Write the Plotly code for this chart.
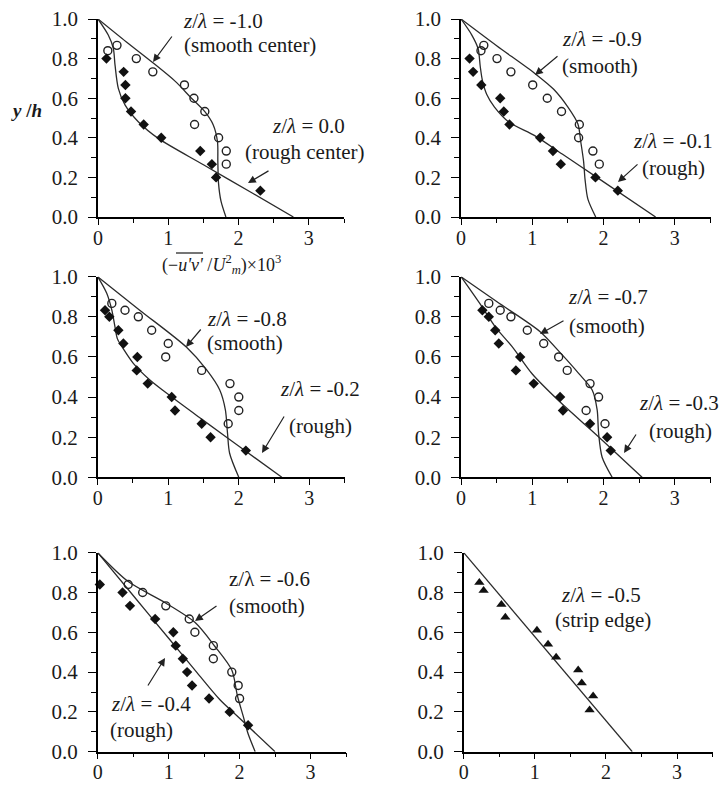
import plotly.graph_objects as go

W, H = 725, 788

# ---------------- data ----------------
# Panel 1: z/lambda = -1.0 (smooth center) and 0.0 (rough center)
p1_smooth_x = [0.14, 0.27, 0.545, 0.78, 1.23, 1.365, 1.52, 1.374, 1.716, 1.825, 1.825]
p1_smooth_y = [0.84, 0.867, 0.8, 0.733, 0.667, 0.6, 0.533, 0.467, 0.4, 0.333, 0.267]
p1_rough_x = [0.12, 0.365, 0.39, 0.39, 0.47, 0.65, 0.90, 1.455, 1.62, 1.68, 2.31]
p1_rough_y = [0.8, 0.733, 0.667, 0.6, 0.533, 0.467, 0.4, 0.333, 0.267, 0.2, 0.133]
p1_smooth_fit_x = [0, 0.40, 0.763, 1.10, 1.33, 1.52, 1.64, 1.70, 1.705, 1.715, 1.75, 1.82]
p1_smooth_fit_y = [1.0, 0.885, 0.784, 0.685, 0.60, 0.532, 0.465, 0.38, 0.28, 0.17, 0.08, 0.0]
p1_rough_fit_x = [0, 0.146, 0.218, 0.242, 0.289, 0.384, 0.573, 0.857, 1.5, 2.2, 2.78]
p1_rough_fit_y = [1.0, 0.919, 0.852, 0.768, 0.65, 0.566, 0.481, 0.397, 0.264, 0.12, 0.0]

# Panel 2: z/lambda = -0.9 (smooth) and -0.1 (rough)
p2_smooth_x = [0.28, 0.32, 0.505, 0.70, 1.006, 1.21, 1.41, 1.66, 1.65, 1.85, 1.94]
p2_smooth_y = [0.84, 0.867, 0.8, 0.733, 0.667, 0.6, 0.533, 0.467, 0.4, 0.333, 0.267]
p2_rough_x = [-0.03, 0.12, 0.17, 0.285, 0.55, 0.60, 0.68, 1.11, 1.29, 1.40, 1.886, 2.20]
p2_rough_y = [0.84, 0.8, 0.733, 0.667, 0.6, 0.533, 0.467, 0.4, 0.333, 0.267, 0.2, 0.133]
p2_smooth_fit_x = [0, 0.5, 1.04, 1.30, 1.50, 1.64, 1.68, 1.72, 1.74, 1.78, 1.89]
p2_smooth_fit_y = [1.0, 0.865, 0.724, 0.645, 0.555, 0.47, 0.38, 0.28, 0.19, 0.09, 0.0]
p2_rough_fit_x = [0, 0.15, 0.24, 0.27, 0.30, 0.36, 0.47, 0.67, 1.04, 1.42, 1.886, 2.73]
p2_rough_fit_y = [1.0, 0.92, 0.85, 0.76, 0.69, 0.62, 0.555, 0.48, 0.41, 0.318, 0.205, 0.0]

# Panel 3: z/lambda = -0.8 (smooth) and -0.2 (rough)
p3_smooth_x = [0.20, 0.387, 0.576, 0.765, 1.0, 0.964, 1.474, 1.875, 2.0, 2.0, 1.85]
p3_smooth_y = [0.867, 0.833, 0.8, 0.733, 0.667, 0.6, 0.533, 0.467, 0.4, 0.333, 0.267]
p3_rough_x = [0.104, 0.165, 0.293, 0.364, 0.562, 0.553, 0.709, 1.049, 1.096, 1.474, 1.60, 2.10]
p3_rough_y = [0.833, 0.8, 0.733, 0.667, 0.6, 0.533, 0.467, 0.4, 0.333, 0.267, 0.2, 0.133]
p3_smooth_fit_x = [0, 0.6, 1.26, 1.545, 1.73, 1.81, 1.84, 1.87, 2.0]
p3_smooth_fit_y = [1.0, 0.832, 0.648, 0.535, 0.435, 0.336, 0.22, 0.12, 0.0]
p3_rough_fit_x = [0, 0.128, 0.2, 0.24, 0.28, 0.364, 0.505, 0.74, 1.05, 1.474, 2.10, 2.61]
p3_rough_fit_y = [1.0, 0.917, 0.834, 0.76, 0.69, 0.64, 0.568, 0.485, 0.40, 0.29, 0.13, 0.0]

# Panel 4: z/lambda = -0.7 (smooth) and -0.3 (rough)
p4_smooth_x = [0.39, 0.55, 0.70, 0.93, 1.16, 1.37, 1.49, 1.81, 1.93, 1.755, 2.02]
p4_smooth_y = [0.867, 0.833, 0.8, 0.733, 0.667, 0.6, 0.533, 0.467, 0.4, 0.333, 0.267]
p4_rough_x = [0.30, 0.39, 0.48, 0.53, 0.83, 0.77, 1.02, 1.39, 1.43, 1.81, 2.05, 2.10]
p4_rough_y = [0.833, 0.8, 0.733, 0.667, 0.6, 0.533, 0.467, 0.4, 0.333, 0.267, 0.2, 0.133]
p4_smooth_fit_x = [0, 0.5, 1.11, 1.42, 1.65, 1.84, 1.91, 1.93, 1.98, 2.12]
p4_smooth_fit_y = [1.0, 0.876, 0.726, 0.61, 0.518, 0.435, 0.336, 0.22, 0.10, 0.0]
p4_rough_fit_x = [0, 0.295, 0.48, 0.72, 1.0, 1.42, 1.886, 2.54]
p4_rough_fit_y = [1.0, 0.85, 0.75, 0.65, 0.515, 0.365, 0.216, 0.0]

# Panel 5: z/lambda = -0.6 (smooth) and -0.4 (rough)
p5_smooth_x = [0.43, 0.634, 0.96, 1.29, 1.37, 1.63, 1.63, 1.89, 1.98, 2.0]
p5_smooth_y = [0.84, 0.8, 0.733, 0.667, 0.6, 0.533, 0.467, 0.4, 0.333, 0.267]
p5_rough_x = [0.03, 0.35, 0.455, 0.81, 1.066, 1.10, 1.20, 1.26, 1.33, 1.57, 1.86, 2.12]
p5_rough_y = [0.84, 0.8, 0.733, 0.667, 0.6, 0.533, 0.467, 0.4, 0.333, 0.267, 0.2, 0.133]
p5_smooth_fit_x = [0, 0.43, 0.945, 1.37, 1.65, 1.89, 1.97, 2.05, 2.12, 2.22]
p5_smooth_fit_y = [1.0, 0.855, 0.75, 0.65, 0.53, 0.41, 0.28, 0.18, 0.09, 0.0]
p5_rough_fit_x = [0, 0.5, 1.0, 1.4, 1.72, 2.0, 2.5]
p5_rough_fit_y = [1.0, 0.785, 0.57, 0.397, 0.262, 0.168, 0.0]

# Panel 6: z/lambda = -0.5 (strip edge)
p6_edge_x = [0.22, 0.28, 0.53, 0.586, 1.03, 1.186, 1.30, 1.61, 1.66, 1.82, 1.77]
p6_edge_y = [0.85, 0.81, 0.74, 0.675, 0.61, 0.54, 0.475, 0.41, 0.345, 0.28, 0.21]
p6_edge_fit_x = [0, 2.37]
p6_edge_fit_y = [1.0, 0.0]

x_tick_vals = [0, 1, 2, 3]
x_tick_text = ["0", "1", "2", "3"]
y_tick_vals = [0.0, 0.2, 0.4, 0.6, 0.8, 1.0]
y_tick_text = ["0.0", "0.2", "0.4", "0.6", "0.8", "1.0"]

# ---------------- layout helpers ----------------
FONT = "'Liberation Serif', 'DejaVu Serif', serif"
FS = 21
INK = "#1a1a1a"
LINE = "#2b2b2b"


def px(xp, yp):
    return xp / W, 1 - yp / H


# panel plot-area rectangles in pixels: (left, right, top, bottom)
panels = [
    (98, 344, 19, 217),
    (461, 710.5, 19, 217),
    (97.7, 344.6, 276.7, 477.3),
    (461, 710.5, 276.7, 477.3),
    (97.7, 346, 552.7, 751.7),
    (463.7, 712.6, 552.7, 751.7),
]

fig = go.Figure()
layout = dict(
    template="none",
    width=W, height=H, autosize=False, margin=dict(l=0, r=0, t=0, b=0, pad=0, autoexpand=False),
    paper_bgcolor="white", plot_bgcolor="white", showlegend=False,
    font=dict(family=FONT, size=FS, color=INK),
)
for i, (l, r, t, b) in enumerate(panels):
    k = "" if i == 0 else str(i + 1)
    layout["xaxis" + k] = dict(
        domain=[l / W, r / W], range=[0, 3.5], anchor="y" + k, automargin=False,
        showline=True, linecolor="black", linewidth=1.5, showgrid=False, zeroline=False,
        tickmode="array", tickvals=x_tick_vals, ticktext=x_tick_text,
        ticks="outside", ticklen=6, tickwidth=1.3, tickcolor="black",
        minor=dict(dtick=0.5, tick0=0, ticks="outside", ticklen=4, tickwidth=1.2,
                   tickcolor="black", showgrid=False),
        tickfont=dict(family=FONT, size=FS - 1, color=INK), ticklabelstandoff=-4,
    )
    layout["yaxis" + k] = dict(
        domain=[1 - b / H, 1 - t / H], range=[0, 1.0], anchor="x" + k, automargin=False,
        showline=True, linecolor="black", linewidth=1.5, showgrid=False, zeroline=False,
        tickmode="array", tickvals=y_tick_vals, ticktext=y_tick_text,
        ticks="outside", ticklen=8, tickwidth=1.3, tickcolor="black",
        minor=dict(dtick=0.1, tick0=0, ticks="outside", ticklen=5, tickwidth=1.2,
                   tickcolor="black", showgrid=False),
        tickfont=dict(family=FONT, size=FS, color=INK), ticklabelstandoff=6,
    )
fig.update_layout(**layout)


def add_line(i, xs, ys):
    k = "" if i == 0 else str(i + 1)
    fig.add_trace(go.Scatter(x=xs, y=ys, mode="lines", xaxis="x" + k, yaxis="y" + k,
                             line=dict(color=LINE, width=1.3, shape="spline", smoothing=0.8),
                             cliponaxis=False, hoverinfo="skip"))


def add_pts(i, xs, ys, kind):
    k = "" if i == 0 else str(i + 1)
    if kind == "circle":
        mk = dict(symbol="circle-open", size=8, color="#222", line=dict(width=1.4, color="#222"))
    elif kind == "diamond":
        mk = dict(symbol="diamond", size=8, color="#111", line=dict(width=0))
    else:
        mk = dict(symbol="triangle-up", size=9, color="#111", line=dict(width=0))
    fig.add_trace(go.Scatter(x=xs, y=ys, mode="markers", xaxis="x" + k, yaxis="y" + k,
                             marker=mk, cliponaxis=False))


panel_data = [
    (p1_smooth_fit_x, p1_smooth_fit_y, p1_rough_fit_x, p1_rough_fit_y,
     p1_smooth_x, p1_smooth_y, p1_rough_x, p1_rough_y),
    (p2_smooth_fit_x, p2_smooth_fit_y, p2_rough_fit_x, p2_rough_fit_y,
     p2_smooth_x, p2_smooth_y, p2_rough_x, p2_rough_y),
    (p3_smooth_fit_x, p3_smooth_fit_y, p3_rough_fit_x, p3_rough_fit_y,
     p3_smooth_x, p3_smooth_y, p3_rough_x, p3_rough_y),
    (p4_smooth_fit_x, p4_smooth_fit_y, p4_rough_fit_x, p4_rough_fit_y,
     p4_smooth_x, p4_smooth_y, p4_rough_x, p4_rough_y),
    (p5_smooth_fit_x, p5_smooth_fit_y, p5_rough_fit_x, p5_rough_fit_y,
     p5_smooth_x, p5_smooth_y, p5_rough_x, p5_rough_y),
]
for i, (sfx, sfy, rfx, rfy, sx, sy, rx, ry) in enumerate(panel_data):
    add_line(i, sfx, sfy)
    add_line(i, rfx, rfy)
    add_pts(i, sx, sy, "circle")
    add_pts(i, rx, ry, "diamond")

add_line(5, p6_edge_fit_x, p6_edge_fit_y)
add_pts(5, p6_edge_x, p6_edge_y, "triangle")

# ---------------- annotations ----------------
ann = []


def text(xp, yp, s, size=FS):
    x, y = px(xp, yp)
    ann.append(dict(x=x, y=y, xref="paper", yref="paper", text=s, showarrow=False,
                    xanchor="center", yanchor="middle",
                    font=dict(family=FONT, size=size, color=INK)))


def arrow(x0, y0, x1, y1):
    x, y = px(x1, y1)
    ann.append(dict(x=x, y=y, xref="paper", yref="paper", text="", showarrow=True,
                    ax=x0 - x1, ay=y0 - y1, axref="pixel", ayref="pixel",
                    arrowhead=2, arrowsize=1.3, arrowwidth=1.2, arrowcolor="#222",
                    standoff=0, startstandoff=0))


ZL = "<i>z</i>/<i>λ</i>"
text(223, 21, ZL + " = -1.0")
text(250, 45, "(smooth center)")
arrow(173, 35, 153, 62)
text(308, 126, ZL + " = 0.0")
text(305, 152, "(rough center)")
arrow(270, 170, 248, 183)

text(602, 39, ZL + " = -0.9")
text(600, 66, "(smooth)")
arrow(559, 55, 535, 75)
text(673, 141, ZL + " = -0.1")
text(673, 168, "(rough)")
arrow(639, 163, 618, 182)

text(247, 319, ZL + " = -0.8")
text(245, 343, "(smooth)")
arrow(202, 328, 186, 347)
text(320, 389, ZL + " = -0.2")
text(320, 426, "(rough)")
arrow(285, 415, 262, 453)

text(608, 297, ZL + " = -0.7")
text(607, 326, "(smooth)")
arrow(565, 320, 540, 334)
text(679, 403, ZL + " = -0.3")
text(680, 431, "(rough)")
arrow(637, 433, 624, 453)

text(269, 579, "z/λ = -0.6")
text(267, 606, "(smooth)")
arrow(218, 605, 195, 621)
text(151, 704, ZL + " = -0.4")
text(141, 730, "(rough)")
arrow(147, 687, 165, 658)

text(601, 595, ZL + " = -0.5")
text(603, 620, "(strip edge)")

# axis titles
text(27, 110, "<b><i>y</i> /<i>h</i></b>", size=19)
text(222, 264, "(−<i>u'v'</i> /<i>U</i><sup>2</sup><sub><i>m</i></sub>)×10<sup>3</sup>", size=18)
x0, y0 = px(176, 253)
x1, _ = px(203, 253)
fig.add_shape(type="line", xref="paper", yref="paper", x0=x0, x1=x1, y0=y0, y1=y0,
              line=dict(color=INK, width=1.2))

fig.update_layout(annotations=ann)
fig.write_html("out.html", config={"displayModeBar": False},
               post_script="document.body.style.margin='0px';")
